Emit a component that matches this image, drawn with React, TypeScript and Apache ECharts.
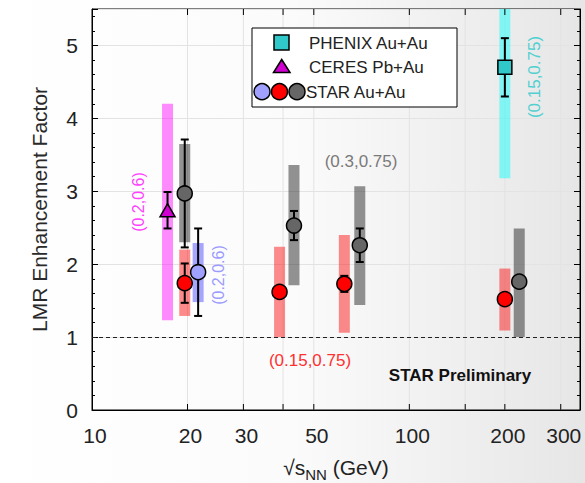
import React, { useEffect, useRef } from "react";
import * as echarts from "echarts";

// Axis decorations on the log energy axis
const xTickValues = [20, 30, 40, 50, 100, 150, 200, 300];
const xLabelValues = [10, 20, 30, 50, 100, 200, 300];
const referenceLevel = 1;

// STAR Au+Au (red)
const starRedEnergy = [19.6, 39, 62.4, 200];
const starRedValue = [1.74, 1.62, 1.73, 1.52];
const starRedStat = [0.27, 0.06, 0.11, 0.05];
const starRedSysLow = [1.29, 1.0, 1.06, 1.09];
const starRedSysHigh = [2.2, 2.24, 2.4, 1.94];

// STAR Au+Au (gray)
const starGrayEnergy = [19.6, 43.3, 69.8, 222];
const starGrayValue = [2.97, 2.53, 2.26, 1.76];
const starGrayStat = [0.74, 0.2, 0.23, 0.05];
const starGraySysLow = [2.3, 1.71, 1.44, 1.0];
const starGraySysHigh = [3.65, 3.36, 3.07, 2.49];

// STAR Au+Au (blue)
const starBlueEnergy = [21.6];
const starBlueValue = [1.89];
const starBlueStat = [0.6];
const starBlueSysLow = [1.48];
const starBlueSysHigh = [2.29];

// CERES Pb+Au
const ceresEnergy = [17.3];
const ceresValue = [2.74];
const ceresStat = [0.25];
const ceresSysLow = [1.23];
const ceresSysHigh = [4.2];

// PHENIX Au+Au
const phenixEnergy = [200];
const phenixValue = [4.7];
const phenixStat = [0.4];
const phenixSysLow = [3.18];
const phenixSysHigh = [6.2];

const FONT = "'Liberation Sans', Arial, Helvetica, sans-serif";
const Y_MAX = 5.5;

function clipToGrid(rect: any, params: any) {
  const cs = params.coordSys;
  return echarts.graphic.clipRectByRect(rect, {
    x: cs.x,
    y: cs.y,
    width: cs.width,
    height: cs.height,
  });
}

function bandSeries(energy: number[], lo: number[], hi: number[], color: string) {
  return {
    type: "custom",
    coordinateSystem: "cartesian2d",
    silent: true,
    z: 3,
    data: energy.map((e, i) => [e, lo[i], hi[i]]),
    encode: { x: 0, y: [1, 2] },
    renderItem: (params: any, api: any) => {
      const top = api.coord([api.value(0), api.value(2)]);
      const bot = api.coord([api.value(0), api.value(1)]);
      const w = 11;
      const rect = clipToGrid(
        { x: top[0] - w / 2, y: top[1], width: w, height: bot[1] - top[1] },
        params
      );
      if (!rect) return null;
      return { type: "rect", shape: rect, style: { fill: color } };
    },
  };
}

function errorSeries(energy: number[], value: number[], stat: number[]) {
  return {
    type: "custom",
    coordinateSystem: "cartesian2d",
    silent: true,
    z: 4,
    data: energy.map((e, i) => [e, value[i] - stat[i], value[i] + stat[i]]),
    encode: { x: 0, y: [1, 2] },
    renderItem: (params: any, api: any) => {
      const p1 = api.coord([api.value(0), api.value(2)]);
      const p2 = api.coord([api.value(0), api.value(1)]);
      const cap = 4;
      const st = { stroke: "#000", lineWidth: 2 };
      return {
        type: "group",
        children: [
          { type: "line", shape: { x1: p1[0], y1: p1[1], x2: p2[0], y2: p2[1] }, style: st },
          { type: "line", shape: { x1: p1[0] - cap, y1: p1[1], x2: p1[0] + cap, y2: p1[1] }, style: st },
          { type: "line", shape: { x1: p2[0] - cap, y1: p2[1], x2: p2[0] + cap, y2: p2[1] }, style: st },
        ],
      };
    },
  };
}

function markerSeries(
  name: string,
  energy: number[],
  value: number[],
  symbol: string,
  size: number | number[],
  color: string
) {
  return {
    type: "scatter",
    name,
    z: 5,
    symbol,
    symbolSize: size,
    data: energy.map((e, i) => [e, value[i]]),
    itemStyle: { color, borderColor: "#000", borderWidth: 1.5, opacity: 1 },
  };
}

export default function App() {
  const ref = useRef<HTMLDivElement>(null);

  useEffect(() => {
    if (!ref.current) return;
    const chart = echarts.init(ref.current, undefined, { renderer: "svg" });

    const yAxisCommon = {
      type: "value",
      min: 0,
      max: Y_MAX,
      interval: 1,
      axisLine: { show: true, lineStyle: { color: "#000", width: 1 } },
      axisTick: { show: true, inside: true, length: 6, lineStyle: { color: "#000" } },
      minorTick: { show: true, splitNumber: 5, length: 3, lineStyle: { color: "#000" } },
    };

    const option: any = {
      animation: false,
      backgroundColor: new echarts.graphic.LinearGradient(0, 0, 1, 0, [
        { offset: 0, color: "#ffffff" },
        { offset: 0.5, color: "#fbfbfb" },
        { offset: 1, color: "#e6e6e6" },
      ]),
      grid: {
        left: 92,
        right: 5,
        top: 9,
        bottom: 73,
        containLabel: false,
        outerBoundsMode: "none",
        show: true,
        borderColor: "#000",
        borderWidth: 1,
        backgroundColor: "transparent",
      },
      xAxis: {
        type: "log",
        logBase: 10,
        min: 10,
        max: 345,
        axisLine: { show: true, onZero: false, lineStyle: { color: "#000", width: 1 } },
        axisTick: { show: false },
        axisLabel: { show: false },
        splitLine: { show: false },
        minorTick: { show: false },
        minorSplitLine: { show: false },
      },
      yAxis: [
        {
          ...yAxisCommon,
          position: "left",
          axisLabel: {
            fontSize: 21,
            fontFamily: FONT,
            color: "#222",
            margin: 14,
            showMaxLabel: false,
          },
          splitLine: { show: true, lineStyle: { color: "#e3e3e3", width: 1 } },
          name: "LMR Enhancement Factor",
          nameLocation: "middle",
          nameGap: 42,
          nameRotate: 90,
          nameTextStyle: { fontSize: 21, fontFamily: FONT, color: "#2a2a2a" },
        },
        {
          ...yAxisCommon,
          position: "right",
          axisLabel: { show: false },
          splitLine: { show: false },
        },
      ],
      series: [
        // vertical grid lines at the energy ticks
        {
          type: "custom",
          coordinateSystem: "cartesian2d",
          silent: true,
          z: 1,
          data: xTickValues.map((v) => [v, 0]),
          encode: { x: 0, y: 1 },
          renderItem: (params: any, api: any) => {
            const b = api.coord([api.value(0), 0]);
            const t = api.coord([api.value(0), Y_MAX]);
            return {
              type: "line",
              shape: { x1: b[0], y1: b[1], x2: t[0], y2: t[1] },
              style: { stroke: "#e3e3e3", lineWidth: 1 },
            };
          },
          markLine: {
            silent: true,
            symbol: "none",
            label: { show: false },
            lineStyle: { type: [4, 3], color: "#222", width: 1 },
            data: [{ yAxis: referenceLevel }],
          },
        },
        // tick marks on bottom and top edges
        {
          type: "custom",
          coordinateSystem: "cartesian2d",
          silent: true,
          z: 6,
          data: xTickValues.map((v) => [v, 0]),
          encode: { x: 0, y: 1 },
          renderItem: (params: any, api: any) => {
            const b = api.coord([api.value(0), 0]);
            const t = api.coord([api.value(0), Y_MAX]);
            const st = { stroke: "#000", lineWidth: 1 };
            return {
              type: "group",
              children: [
                { type: "line", shape: { x1: b[0], y1: b[1], x2: b[0], y2: b[1] - 6 }, style: st },
                { type: "line", shape: { x1: t[0], y1: t[1], x2: t[0], y2: t[1] + 6 }, style: st },
              ],
            };
          },
        },
        // energy tick labels
        {
          type: "custom",
          coordinateSystem: "cartesian2d",
          silent: true,
          z: 6,
          data: xLabelValues.map((v) => [v, 0]),
          encode: { x: 0, y: 1 },
          renderItem: (params: any, api: any) => {
            const p = api.coord([api.value(0), 0]);
            return {
              type: "text",
              x: p[0] + 3,
              y: p[1] + 25,
              style: {
                text: String(api.value(0)),
                fill: "#222",
                font: `21px ${FONT}`,
                textAlign: "center",
                textVerticalAlign: "middle",
                align: "center",
                verticalAlign: "middle",
              },
            };
          },
        },
        bandSeries(ceresEnergy, ceresSysLow, ceresSysHigh, "rgba(255,0,255,0.45)"),
        bandSeries(phenixEnergy, phenixSysLow, phenixSysHigh, "rgba(0,255,255,0.45)"),
        bandSeries(starRedEnergy, starRedSysLow, starRedSysHigh, "rgba(255,0,0,0.45)"),
        bandSeries(starGrayEnergy, starGraySysLow, starGraySysHigh, "rgba(40,40,40,0.5)"),
        bandSeries(starBlueEnergy, starBlueSysLow, starBlueSysHigh, "rgba(60,60,255,0.45)"),
        errorSeries(ceresEnergy, ceresValue, ceresStat),
        errorSeries(phenixEnergy, phenixValue, phenixStat),
        errorSeries(starRedEnergy, starRedValue, starRedStat),
        errorSeries(starGrayEnergy, starGrayValue, starGrayStat),
        errorSeries(starBlueEnergy, starBlueValue, starBlueStat),
        markerSeries("CERES Pb+Au", ceresEnergy, ceresValue, "triangle", [15, 13], "#d000d0"),
        markerSeries("PHENIX Au+Au", phenixEnergy, phenixValue, "rect", 14, "#30c8c8"),
        markerSeries("STAR Au+Au", starRedEnergy, starRedValue, "circle", 15, "#ff0000"),
        markerSeries("STAR Au+Au", starGrayEnergy, starGrayValue, "circle", 15, "#666666"),
        markerSeries("STAR Au+Au", starBlueEnergy, starBlueValue, "circle", 15, "#a0a0ff"),
      ],
      graphic: [
        // x-axis title with subscript
        {
          type: "text",
          z: 21,
          x: 336,
          y: 467,
          style: {
            text: "{a|√s}{sub|NN}{a| (GeV)}",
            textAlign: "center",
            textVerticalAlign: "middle",
            rich: {
              a: { font: `21px ${FONT}`, fill: "#222", lineHeight: 30, verticalAlign: "middle" },
              sub: { font: `15px ${FONT}`, fill: "#222", lineHeight: 16, verticalAlign: "bottom" },
            },
          },
        },
        // legend
        {
          type: "rect",
          z: 20,
          shape: { x: 252, y: 28, width: 205, height: 79 },
          style: { fill: "#ffffff", stroke: "#000", lineWidth: 1 },
        },
        {
          type: "rect",
          z: 21,
          shape: { x: 274, y: 35, width: 15, height: 15 },
          style: { fill: "#30c8c8", stroke: "#000", lineWidth: 1.5 },
        },
        {
          type: "polygon",
          z: 21,
          shape: { points: [[281.7, 59.5], [273.5, 72.5], [290, 72.5]] },
          style: { fill: "#d000d0", stroke: "#000", lineWidth: 1.5 },
        },
        { type: "circle", z: 21, shape: { cx: 262, cy: 91.7, r: 8 }, style: { fill: "#a0a0ff", stroke: "#000", lineWidth: 1.5 } },
        { type: "circle", z: 21, shape: { cx: 279.5, cy: 91.7, r: 8 }, style: { fill: "#ff0000", stroke: "#000", lineWidth: 1.5 } },
        { type: "circle", z: 21, shape: { cx: 297, cy: 91.7, r: 8 }, style: { fill: "#666666", stroke: "#000", lineWidth: 1.5 } },
        {
          type: "text",
          z: 21,
          x: 309,
          y: 43,
          style: { text: "PHENIX Au+Au", fill: "#222", font: `17px ${FONT}`, textAlign: "left", textVerticalAlign: "middle" },
        },
        {
          type: "text",
          z: 21,
          x: 309,
          y: 67,
          style: { text: "CERES Pb+Au", fill: "#222", font: `17px ${FONT}`, textAlign: "left", textVerticalAlign: "middle" },
        },
        {
          type: "text",
          z: 21,
          x: 306,
          y: 92,
          style: { text: "STAR Au+Au", fill: "#222", font: `17px ${FONT}`, textAlign: "left", textVerticalAlign: "middle" },
        },
        // systematic-uncertainty annotations
        {
          type: "text",
          z: 21,
          x: 138,
          y: 202,
          rotation: Math.PI / 2,
          style: { text: "(0.2,0.6)", fill: "#ff40ff", font: `16px ${FONT}`, textAlign: "center", textVerticalAlign: "middle" },
        },
        {
          type: "text",
          z: 21,
          x: 218,
          y: 275,
          rotation: Math.PI / 2,
          style: { text: "(0.2,0.6)", fill: "#9a9aff", font: `16px ${FONT}`, textAlign: "center", textVerticalAlign: "middle" },
        },
        {
          type: "text",
          z: 21,
          x: 310,
          y: 360,
          style: { text: "(0.15,0.75)", fill: "#ff3030", font: `17px ${FONT}`, textAlign: "center", textVerticalAlign: "middle" },
        },
        {
          type: "text",
          z: 21,
          x: 361,
          y: 161,
          style: { text: "(0.3,0.75)", fill: "#7a7a7a", font: `17px ${FONT}`, textAlign: "center", textVerticalAlign: "middle" },
        },
        {
          type: "text",
          z: 21,
          x: 534,
          y: 77,
          rotation: Math.PI / 2,
          style: { text: "(0.15,0.75)", fill: "#50d0d0", font: `17px ${FONT}`, textAlign: "center", textVerticalAlign: "middle" },
        },
        {
          type: "text",
          z: 21,
          x: 460,
          y: 375,
          style: { text: "STAR Preliminary", fill: "#111", font: `bold 17px ${FONT}`, textAlign: "center", textVerticalAlign: "middle" },
        },
      ],
    };

    chart.setOption(option);
    return () => chart.dispose();
  }, []);

  return (
    <div
      ref={ref}
      style={{ position: "fixed", left: 0, top: 0, width: 585, height: 483 }}
    />
  );
}
